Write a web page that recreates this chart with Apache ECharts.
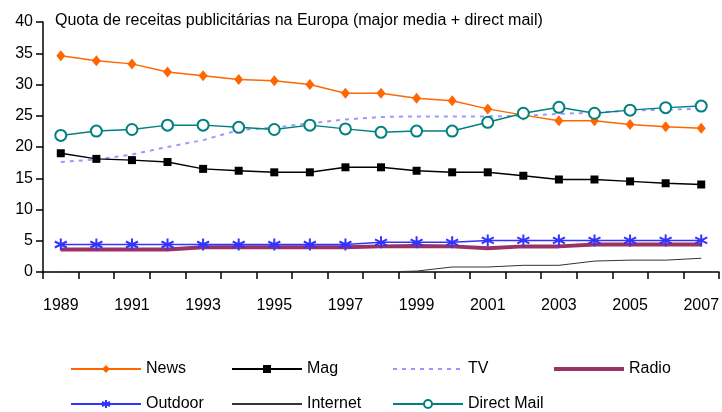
<!DOCTYPE html>
<html>
<head>
<meta charset="utf-8">
<script src="https://cdn.jsdelivr.net/npm/echarts@6/dist/echarts.min.js"></script>
<style>
html,body{margin:0;padding:0;background:#fff;}
#chart{width:722px;height:412px;}
</style>
</head>
<body>
<div id="chart"></div>
<script>
const titleText = 'Quota de receitas publicitárias na Europa (major media + direct mail)';
const years = ['1989','1990','1991','1992','1993','1994','1995','1996','1997','1998','1999','2000','2001','2002','2003','2004','2005','2006','2007'];
const news = [34.6, 33.8, 33.3, 32.0, 31.4, 30.8, 30.6, 30.0, 28.6, 28.6, 27.8, 27.4, 26.1, 25.1, 24.2, 24.2, 23.6, 23.25, 23.0];
const mag = [19.0, 18.1, 17.9, 17.6, 16.5, 16.2, 15.95, 15.95, 16.75, 16.75, 16.2, 15.95, 15.95, 15.4, 14.8, 14.8, 14.5, 14.2, 14.0];
const tv = [17.6, 18.0, 18.8, 20.0, 21.1, 22.7, 23.1, 23.8, 24.4, 24.8, 24.9, 24.9, 24.9, 25.0, 25.3, 25.5, 25.8, 26.0, 26.1];
const radio = [3.6, 3.6, 3.6, 3.6, 3.95, 3.95, 3.95, 3.95, 3.95, 4.1, 4.15, 4.1, 3.8, 4.1, 4.1, 4.4, 4.4, 4.4, 4.4];
const outdoor = [4.4, 4.4, 4.4, 4.4, 4.4, 4.4, 4.4, 4.4, 4.4, 4.75, 4.75, 4.75, 5.05, 5.05, 5.05, 5.05, 5.05, 5.05, 5.05];
const internet = [0, 0, 0, 0, 0, 0, 0, 0, 0, 0, 0.15, 0.8, 0.8, 1.07, 1.07, 1.75, 1.9, 1.9, 2.2];
const directMail = [21.85, 22.55, 22.8, 23.5, 23.5, 23.15, 22.8, 23.5, 22.9, 22.35, 22.55, 22.55, 23.95, 25.4, 26.35, 25.4, 25.9, 26.3, 26.55];
const yTicks = {min: 0, max: 40, interval: 5};

const FONT = '"Liberation Sans", Arial, sans-serif';
const starPath = 'path://M5,0L5,10M0.7,2.5L9.3,7.5M0.7,7.5L9.3,2.5';

const chart = echarts.init(document.getElementById('chart'), null, {renderer: 'canvas'});

function legendItem(left, top, name, lineWidth, noSymbol) {
  const item = {name: name, lineStyle: {width: lineWidth}};
  if (noSymbol) item.itemStyle = {opacity: 0};
  return {
    orient: 'horizontal', left: left, top: top,
    itemWidth: 70, itemHeight: 10, padding: 0,
    textStyle: {fontFamily: FONT, fontSize: 16, color: '#000', lineHeight: 18},
    data: [item]
  };
}

chart.setOption({
  animation: false,
  backgroundColor: '#fff',
  title: {
    text: titleText, left: 55, top: 13, padding: 0,
    textStyle: {fontFamily: FONT, fontSize: 16, fontWeight: 'normal', color: '#000'}
  },
  legend: [
    legendItem(70, 360, 'News', 2, false),
    legendItem(231, 360, 'Mag', 2, false),
    legendItem(392, 360, 'TV', 2, true),
    legendItem(552, 360, 'Radio', 4, true),
    legendItem(70, 395, 'Outdoor', 2, false),
    legendItem(231, 395, 'Internet', 2, true),
    legendItem(392, 395, 'Direct Mail', 2, false)
  ],
  grid: {left: 43, right: 2, top: 22, bottom: 140, containLabel: false},
  xAxis: {
    type: 'category', data: years, boundaryGap: true,
    axisLine: {lineStyle: {color: '#000', width: 1.5}},
    axisTick: {show: true, interval: 0, length: 7, lineStyle: {color: '#000', width: 1.5}},
    axisLabel: {interval: 1, margin: 26, fontFamily: FONT, fontSize: 16, color: '#000'},
    splitLine: {show: false}
  },
  yAxis: {
    type: 'value', min: yTicks.min, max: yTicks.max, interval: yTicks.interval,
    axisLine: {show: true, lineStyle: {color: '#000', width: 1.5}},
    axisTick: {show: true, length: 7, lineStyle: {color: '#000', width: 1.5}},
    axisLabel: {margin: 10, fontFamily: FONT, fontSize: 16, color: '#000'},
    splitLine: {show: false}
  },
  series: [
    {name: 'Internet', type: 'line', data: internet, symbol: 'none',
      lineStyle: {color: '#333333', width: 1}, itemStyle: {color: '#333333'}},
    {name: 'Radio', type: 'line', data: radio, symbol: 'none',
      lineStyle: {color: '#993366', width: 4}, itemStyle: {color: '#993366'}},
    {name: 'Outdoor', type: 'line', data: outdoor, symbol: starPath, symbolSize: 12,
      lineStyle: {color: '#3333FF', width: 1.5},
      itemStyle: {color: '#3333FF', borderColor: '#3333FF', borderWidth: 2}},
    {name: 'TV', type: 'line', data: tv, symbol: 'none',
      lineStyle: {color: '#9999FF', width: 2, type: [4, 5]}, itemStyle: {color: '#9999FF'}},
    {name: 'Mag', type: 'line', data: mag, symbol: 'rect', symbolSize: 8,
      lineStyle: {color: '#000000', width: 1.5}, itemStyle: {color: '#000000'}},
    {name: 'News', type: 'line', data: news, symbol: 'diamond', symbolSize: [9, 11],
      lineStyle: {color: '#FF6600', width: 1.5}, itemStyle: {color: '#FF6600'}},
    {name: 'Direct Mail', type: 'line', data: directMail, symbol: 'emptyCircle', symbolSize: 11,
      lineStyle: {color: '#008080', width: 1.5},
      itemStyle: {color: '#008080', borderColor: '#008080', borderWidth: 1.5}}
  ]
});
</script>
</body>
</html>
